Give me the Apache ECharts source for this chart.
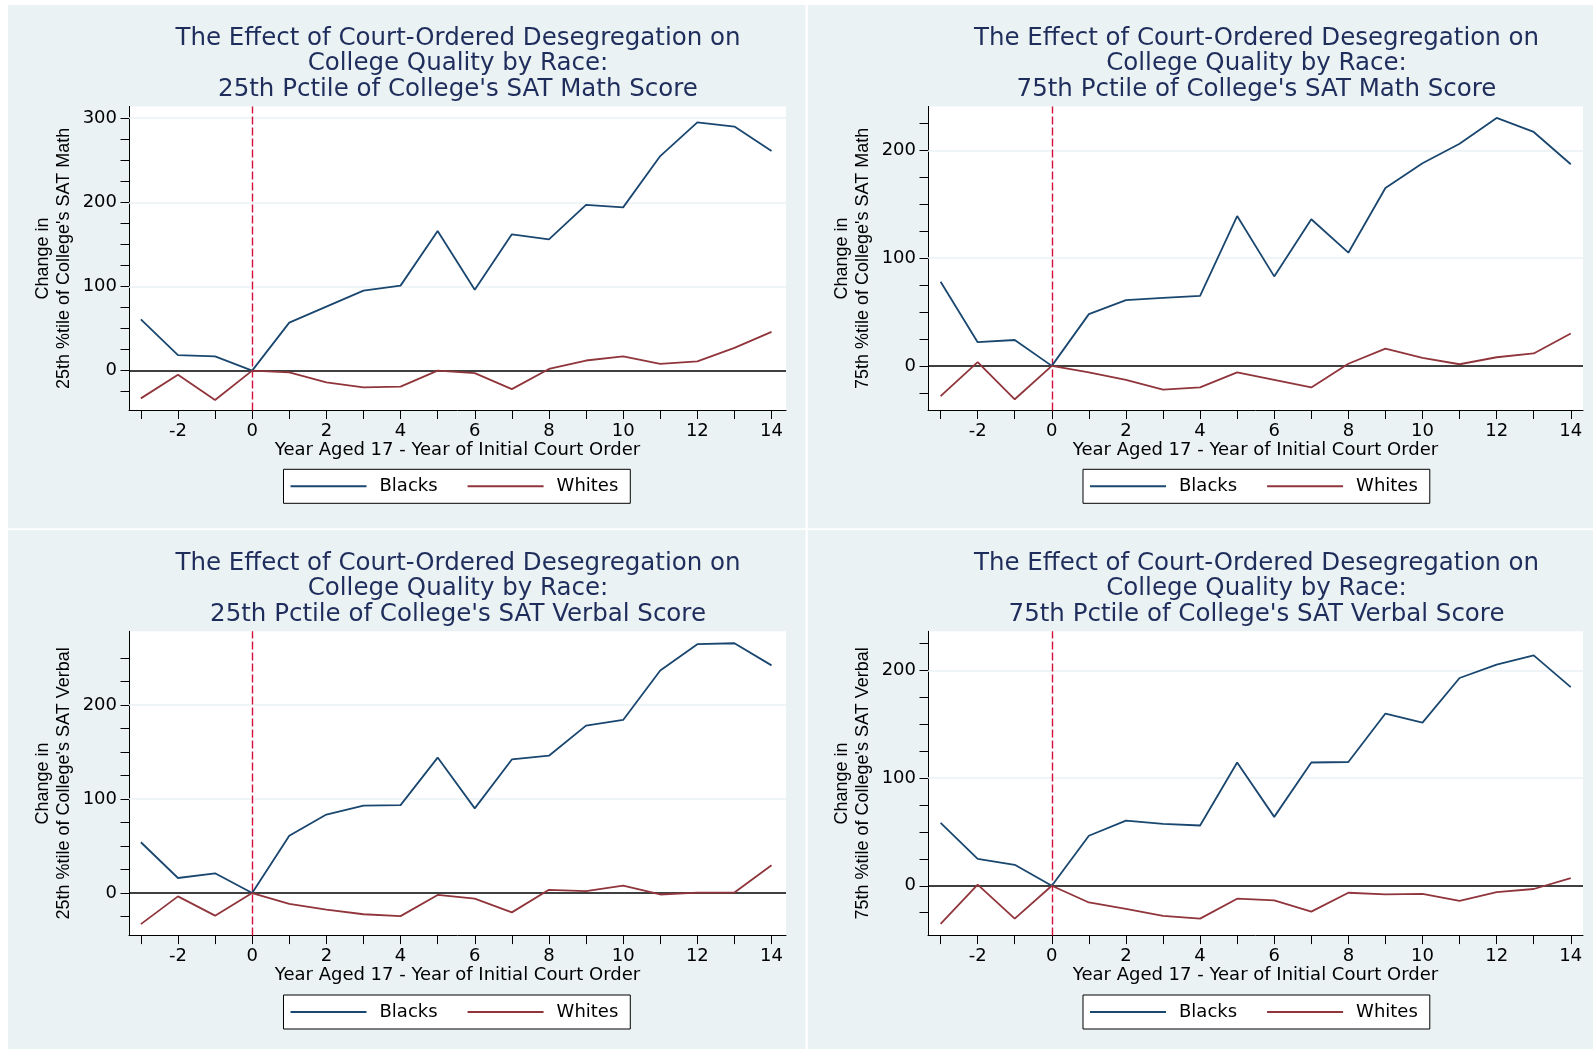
<!DOCTYPE html>
<html><head><meta charset="utf-8">
<script src="https://cdn.jsdelivr.net/npm/echarts@6/dist/echarts.min.js"></script>
<style>html,body{margin:0;padding:0;background:#fff}#c{width:1593px;height:1049px}</style>
</head><body><div id="c"></div>
<script>
// ---------- data ----------
const years = [-3,-2,-1,0,1,2,3,4,5,6,7,8,9,10,11,12,13,14];
const xTickValues = [-3,-2,-1,0,1,2,3,4,5,6,7,8,9,10,11,12,13,14];
const xLabelValues = [-2,0,2,4,6,8,10,12,14];
const seriesNames = ['Blacks','Whites'];

const mathP25Blacks = [61, 18.5, 17, 0, 57, 76, 95, 101, 166, 96, 162, 156, 197, 194, 255, 295, 290, 261];
const mathP25Whites = [-33, -5, -35, 0, -2, -14, -20, -19, 0, -3, -22, 2, 12, 17, 8, 11, 27, 46];
const mathP75Blacks = [78, 22, 24, 0, 48, 61, 63, 65, 139, 83, 136, 105, 165, 188, 206, 230, 217, 187];
const mathP75Whites = [-28, 3.5, -31, 0, -6, -13, -22, -20, -6, -13, -20, 2, 16, 7.5, 1.5, 8, 11.5, 30];
const verbP25Blacks = [54, 16, 21, 0, 61, 83.5, 93, 93.5, 144, 90, 142, 146, 178, 184, 236.5, 264.5, 265.5, 242];
const verbP25Whites = [-33, -3.5, -24, 0, -11.5, -17.5, -22.5, -24.5, -2, -6, -20.5, 3.5, 2, 8, -1.5, 0.5, 0.5, 29.5];
const verbP75Blacks = [58.5, 25, 19.5, 0, 46.5, 60.5, 57.5, 56, 114.5, 64, 114.5, 115, 160, 151.5, 193, 205.5, 214, 184.5];
const verbP75Whites = [-35.5, 1, -30.5, 0, -15.5, -21.5, -28, -30.5, -12, -13.5, -24, -6.5, -8, -7.5, -14, -6, -3, 7];

const panelTitles = [
  "The Effect of Court-Ordered Desegregation on\nCollege Quality by Race:\n25th Pctile of College's SAT Math Score",
  "The Effect of Court-Ordered Desegregation on\nCollege Quality by Race:\n75th Pctile of College's SAT Math Score",
  "The Effect of Court-Ordered Desegregation on\nCollege Quality by Race:\n25th Pctile of College's SAT Verbal Score",
  "The Effect of Court-Ordered Desegregation on\nCollege Quality by Race:\n75th Pctile of College's SAT Verbal Score"
];
const yTitles = [
  "Change in\n25th %tile of College's SAT Math",
  "Change in\n75th %tile of College's SAT Math",
  "Change in\n25th %tile of College's SAT Verbal",
  "Change in\n75th %tile of College's SAT Verbal"
];
const xTitle = "Year Aged 17 - Year of Initial Court Order";

const yTickValues1 = [-25,0,25,50,75,100,125,150,175,200,225,250,275,300];
const yTickValues2 = [-25,0,25,50,75,100,125,150,175,200,225];
const yTickValues3 = [-25,0,25,50,75,100,125,150,175,200,225,250];
const yTickValues4 = [-25,0,25,50,75,100,125,150,175,200,225];
const yLabelValues1 = [0,100,200,300];
const yLabelValues2 = [0,100,200];
const yLabelValues3 = [0,100,200];
const yLabelValues4 = [0,100,200];

const panelBlacks = [mathP25Blacks, mathP75Blacks, verbP25Blacks, verbP75Blacks];
const panelWhites = [mathP25Whites, mathP75Whites, verbP25Whites, verbP75Whites];
const panelYTicks = [yTickValues1, yTickValues2, yTickValues3, yTickValues4];
const panelYLabels = [yLabelValues1, yLabelValues2, yLabelValues3, yLabelValues4];

// ---------- layout / style ----------
const layouts = [
  {bg:[8,5,797.5,523.3], grid:{left:129,top:106.4,width:657,height:304.1}, x:[-3.32,14.39], y:[-47.4,314], titleX:458, titleTop:25.4, legendLeft:283.5, legendTop:469.3},
  {bg:[807.7,5,785.3,523.3], grid:{left:928,top:106.4,width:655,height:304.1}, x:[-3.34,14.33], y:[-41.4,240.7], titleX:1256.5, titleTop:25.4, legendLeft:1083, legendTop:469.3},
  {bg:[8,530,797.5,519], grid:{left:129,top:631.3,width:657,height:304.3}, x:[-3.32,14.39], y:[-45.2,278.2], titleX:458, titleTop:550.4, legendLeft:283.5, legendTop:995},
  {bg:[807.7,530,785.3,519], grid:{left:928,top:631.3,width:655,height:304.3}, x:[-3.34,14.33], y:[-46.3,236.4], titleX:1256.5, titleTop:550.4, legendLeft:1083, legendTop:995}
];
const FONT = 'DejaVu Sans';
const BLUE = '#1a476f', RED = '#90353b', BG = '#eaf2f3';

const chart = echarts.init(document.getElementById('c'), null, {renderer:'canvas'});
const option = {
  animation:false,
  backgroundColor:'#ffffff',
  graphic: layouts.map(L => ({type:'rect', silent:true, z:-10, shape:{x:L.bg[0], y:L.bg[1], width:L.bg[2], height:L.bg[3]}, style:{fill:BG}})),
  title: layouts.map((L,i) => ({
    text: panelTitles[i], left: L.titleX, top: L.titleTop, textAlign:'center', padding:0,
    textStyle:{fontFamily:FONT, fontSize:24.5, fontWeight:'normal', color:'#1f2d5c', lineHeight:25.6}
  })),
  legend: layouts.map(L => ({
    data: seriesNames, left: L.legendLeft, top: L.legendTop, orient:'horizontal',
    selectedMode:false, backgroundColor:'#ffffff', borderColor:'#000', borderWidth:1, borderRadius:0,
    padding:[8,12,8,7], icon:'rect', itemWidth:76, itemHeight:2, itemGap:30,
    textStyle:{fontFamily:FONT, fontSize:18, color:'#000', padding:[0,0,0,8]}
  })),
  grid: layouts.map(L => Object.assign({show:true, backgroundColor:'#ffffff', borderWidth:0, containLabel:false}, L.grid)),
  xAxis: layouts.map((L,i) => ({
    type:'value', gridIndex:i, min:L.x[0], max:L.x[1],
    name:xTitle, nameLocation:'middle', nameGap:30,
    nameTextStyle:{fontFamily:FONT, fontSize:18, color:'#000'},
    axisLine:{show:true, onZero:false, lineStyle:{color:'#000', width:1}},
    axisTick:{show:true, length:8.5, customValues:xTickValues, lineStyle:{color:'#000', width:1}},
    axisLabel:{customValues:xLabelValues, margin:12, fontFamily:FONT, fontSize:18, color:'#000'},
    splitLine:{show:false}
  })),
  yAxis: layouts.map((L,i) => ({
    type:'value', gridIndex:i, min:L.y[0], max:L.y[1],
    name:yTitles[i], nameLocation:'middle', nameRotate:90, nameGap:55,
    nameTextStyle:{fontFamily:'Liberation Sans', fontSize:18, lineHeight:20.5, color:'#000', align:'center'},
    axisLine:{show:true, onZero:false, lineStyle:{color:'#000', width:1}},
    axisTick:{show:true, length:8.5, customValues:panelYTicks[i], lineStyle:{color:'#000', width:1}},
    axisLabel:{customValues:panelYLabels[i], margin:12, fontFamily:FONT, fontSize:18, color:'#000'},
    splitLine:{show:false}
  })),
  series: []
};
layouts.forEach((L,i) => {
  const grids = panelYLabels[i].filter(v => v !== 0).map(v => ({yAxis:v, lineStyle:{color:BG, width:1.5, type:'solid'}}));
  option.series.push({
    name:seriesNames[0], type:'line', xAxisIndex:i, yAxisIndex:i, symbol:'none', smooth:false,
    lineStyle:{color:BLUE, width:1.8}, itemStyle:{color:BLUE}, z:3,
    data: years.map((x,k) => [x, panelBlacks[i][k]]),
    markLine:{silent:true, symbol:'none', z:1, label:{show:false}, emphasis:{disabled:true},
      data: grids.concat([
        {yAxis:0, lineStyle:{color:'#000', width:1.6, type:'solid'}},
        {xAxis:0, lineStyle:{color:'#d0103a', width:1.4, type:[8,3]}}
      ])}
  });
  option.series.push({
    name:seriesNames[1], type:'line', xAxisIndex:i, yAxisIndex:i, symbol:'none', smooth:false,
    lineStyle:{color:RED, width:1.8}, itemStyle:{color:RED}, z:3,
    data: years.map((x,k) => [x, panelWhites[i][k]])
  });
});
chart.setOption(option);
</script></body></html>
